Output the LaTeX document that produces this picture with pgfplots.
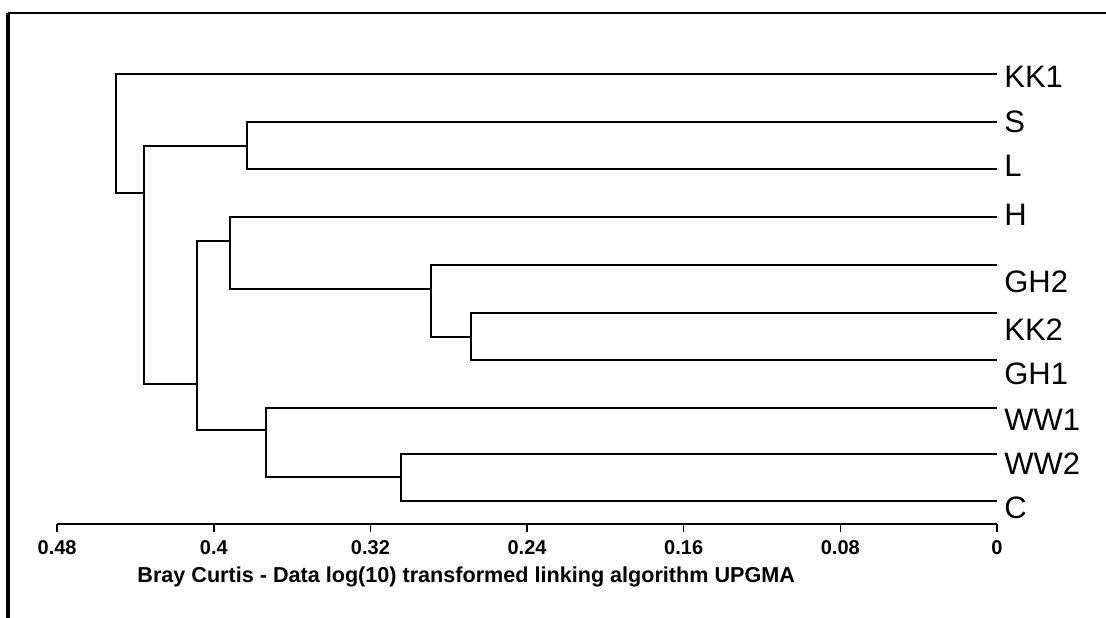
\documentclass[border=0pt]{standalone}
\usepackage{pgfplots}
\pgfplotsset{compat=1.18}
\usepackage{fontspec}
\setmainfont{Liberation Sans}

\tikzset{
  tree/.style={black, line width=0.8pt, mark=none},
  leaf/.style={anchor=west, inner sep=0pt, xshift=3.5pt, font=\fontsize{15.5}{18}\selectfont},
}

\begin{document}
\begin{tikzpicture}
\begin{axis}[
  scale only axis, width=470pt, height=255.5pt,
  x dir=reverse, xmin=0, xmax=0.48, ymin=94, ymax=605,
  axis x line*=bottom, axis y line=none,
  x axis line style={-, line width=1pt},
  xtick={0,0.08,0.16,0.24,0.32,0.4,0.48},
  xticklabels={0,0.08,0.16,0.24,0.32,0.4,0.48},
  tick align=outside, major tick length=4pt,
  xtick style={line width=0.8pt, black},
  xticklabel style={font=\bfseries\fontsize{10}{12}\selectfont, yshift=-1pt},
  ytick=\empty,
  clip=false,
]
% leaves KK2, GH1
\addplot[tree] coordinates {(0,305) (0.2686,305) (0.2686,258) (0,258)};
% GH2 + (KK2,GH1)
\addplot[tree] coordinates {(0,353) (0.2891,353) (0.2891,281) (0.2686,281)};
% H + rest
\addplot[tree] coordinates {(0,401) (0.3917,401) (0.3917,329) (0.2891,329)};
% WW2, C
\addplot[tree] coordinates {(0,164) (0.3044,164) (0.3044,117) (0,117)};
% WW1 + (WW2,C)
\addplot[tree] coordinates {(0,210) (0.3733,210) (0.3733,141) (0.3044,141)};
% H-group + WW-group
\addplot[tree] coordinates {(0.3917,377) (0.4086,377) (0.4086,188) (0.3733,188)};
% S, L
\addplot[tree] coordinates {(0,496) (0.3830,496) (0.3830,449) (0,449)};
% (S,L) + lower group
\addplot[tree] coordinates {(0.3830,472) (0.4356,472) (0.4356,234) (0.4086,234)};
% KK1 + all
\addplot[tree] coordinates {(0,544) (0.4499,544) (0.4499,425) (0.4356,425)};

\node[leaf] at (axis cs:0,541) {KK1};
\node[leaf] at (axis cs:0,496) {S};
\node[leaf] at (axis cs:0,452) {L};
\node[leaf] at (axis cs:0,403) {H};
\node[leaf] at (axis cs:0,336) {GH2};
\node[leaf] at (axis cs:0,288) {KK2};
\node[leaf] at (axis cs:0,244) {GH1};
\node[leaf] at (axis cs:0,198) {WW1};
\node[leaf] at (axis cs:0,154) {WW2};
\node[leaf] at (axis cs:0,110) {C};

\node[anchor=west, inner sep=0pt, font=\bfseries\fontsize{10.8}{12}\selectfont]
  at (axis cs:0.4392,41) {Bray Curtis - Data log(10) transformed linking algorithm UPGMA};

% frame of the original figure
\draw[line width=1.8pt] (axis cs:0.5051,0) -- (axis cs:0.5051,605);
\draw[line width=1.2pt] (axis cs:0.5051,605) -- (axis cs:-0.0557,605);

\coordinate (tl) at (axis cs:0.5092,618);
\coordinate (br) at (axis cs:-0.0557,0);
\end{axis}
\pgfresetboundingbox
\useasboundingbox (tl) rectangle (br);
\end{tikzpicture}
\end{document}
